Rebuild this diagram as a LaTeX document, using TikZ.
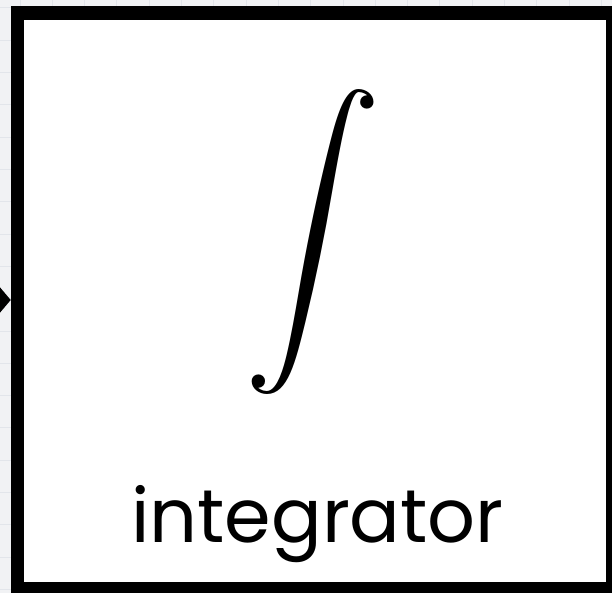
\documentclass[tikz,border=0pt]{standalone}
\usepackage{fontspec}
\usepackage{graphicx}
\newfontfamily\labelfont{Poppins}
\usetikzlibrary{arrows.meta}
\definecolor{bgcol}{HTML}{F1F2F4}
\definecolor{gridcol}{HTML}{E2E5EA}
\tikzset{
  blockbox/.style={draw=black, line width=13.5pt, fill=white, outer sep=0pt, inner sep=0pt},
  inarrow/.style={line width=6pt, -{Triangle[length=20pt,width=46pt]}},
}
\begin{document}
\begin{tikzpicture}[x=1pt,y=1pt]
\useasboundingbox (0,0) rectangle (612,592);
\begin{scope}
\clip (0,0) rectangle (612,592);
\fill[bgcol] (-10,-10) rectangle (630,610);
\foreach \i in {0,...,19} {
  \draw[gridcol, line width=1pt] ({20+32.3*\i},-10) -- ({20+32.3*\i},610);
  \draw[gridcol, line width=1pt] (-10,{592-8-32.3*\i}) -- (630,{592-8-32.3*\i});
}
\node[blockbox, minimum width=595pt, minimum height=576pt, anchor=south west] (integ) at (17.5,3) {};
\coordinate (src) at (-60,292);
\draw[inarrow] (src) -- ([xshift=-6.75pt]integ.west |- src);
\node[inner sep=0pt] (sym) at (313.5,349.5) {\resizebox*{!}{305pt}{$\displaystyle\int$}};
\node[inner sep=0pt, anchor=base] (lbl) at (317.5,50) {\labelfont\fontsize{75}{75}\selectfont integrator};
\end{scope}
\end{tikzpicture}
\end{document}
